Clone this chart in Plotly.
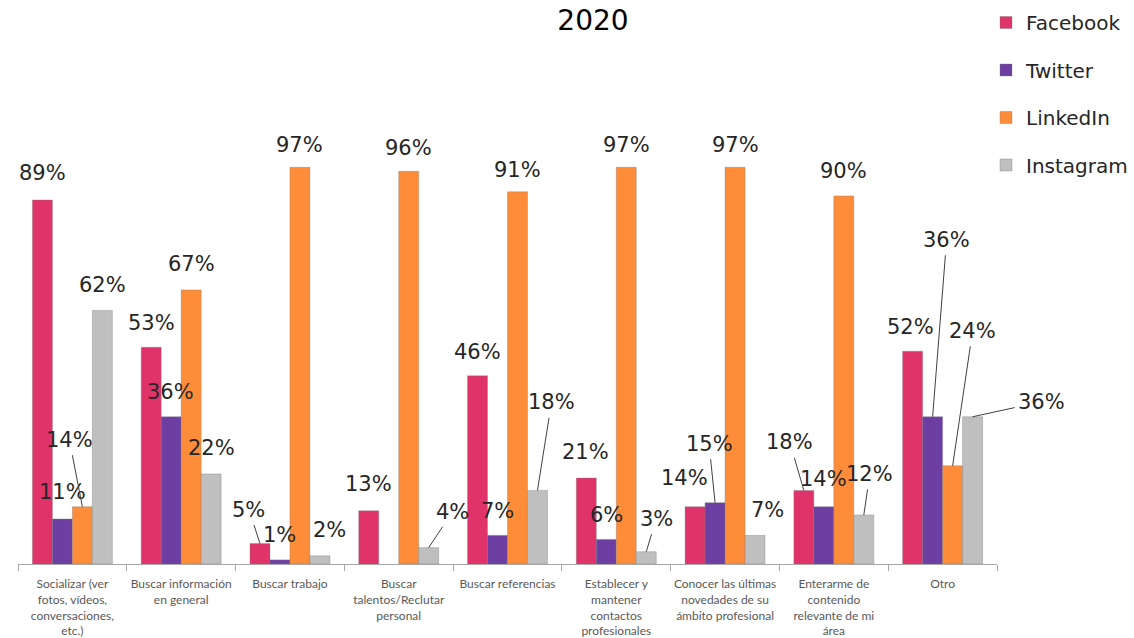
import plotly.graph_objects as go

categories = [
    "Socializar (ver<br>fotos, vídeos,<br>conversaciones,<br>etc.)",
    "Buscar información<br>en general",
    "Buscar trabajo",
    "Buscar<br>talentos/Reclutar<br>personal",
    "Buscar referencias",
    "Establecer y<br>mantener<br>contactos<br>profesionales",
    "Conocer las últimas<br>novedades de su<br>ámbito profesional",
    "Enterarme de<br>contenido<br>relevante de mi<br>área",
    "Otro",
]
series_names = ["Facebook", "Twitter", "LinkedIn", "Instagram"]
facebook = [89, 53, 5, 13, 46, 21, 14, 18, 52]
twitter = [11, 36, 1, None, 7, 6, 15, 14, 36]
linkedin = [14, 67, 97, 96, 91, 97, 97, 90, 24]
instagram = [62, 22, 2, 4, 18, 3, 7, 12, 36]
series_values = [facebook, twitter, linkedin, instagram]
colors = ["#E0336A", "#6E3FA3", "#FF8C38", "#BFBFBF"]

# label placement (pixel offsets of label centre from bar top-centre, leader line flag)
label_offsets = [
    [(0, -27, 0), (0, -24, 0), (-11, -34, 1), (0, -27, 0), (0, -24, 0), (-1, -26, 0), (-11, -29, 0), (-14, -48, 1), (-2, -24, 0)],
    [(0, -27, 0), (-1, -25, 0), (0, -25, 0), None, (0, -24, 0), (0, -24, 0), (-6, -59, 1), (0, -28, 0), (14, -177, 1)],
    [(-13, -67, 1), (0, -26, 0), (0, -22, 0), (0, -23, 0), (0, -22, 0), (0, -22, 0), (0, -22, 0), (0, -25, 0), (20, -135, 1)],
    [(0, -25, 0), (0, -26, 0), (10, -26, 0), (24, -36, 1), (14, -88, 1), (10, -33, 1), (12, -25, 0), (6, -41, 1), (69, -15, 1)],
]

W, H = 1134, 638
ML, MR, MT, MB = 18, 137, 60, 74
px_per_unit = 4.09
yrange_max = (H - MT - MB) / px_per_unit
bargap = 0.265
bw = (1 - bargap) / 4

FONT = "DejaVu Sans"
fig = go.Figure()
x_idx = list(range(len(categories)))
for i, (name, vals) in enumerate(zip(series_names, series_values)):
    fig.add_trace(go.Bar(
        x=x_idx, y=vals, name=name, legendgroup=name,
        marker=dict(color=colors[i], line=dict(color="rgba(120,120,120,0.6)", width=0.6)),
    ))

annotations = []
for i, vals in enumerate(series_values):
    for c, v in enumerate(vals):
        if v is None or label_offsets[i][c] is None:
            continue
        dx, dy, leader = label_offsets[i][c]
        xc = c + (i - 1.5) * bw
        common = dict(x=xc, y=v, xref="x", yref="y", text=f"{v}%",
                      font=dict(family=FONT, size=21, color="#262626"))
        if leader:
            annotations.append(dict(**common, showarrow=True, ax=dx, ay=dy,
                                    arrowhead=0, arrowwidth=1, arrowcolor="#404040",
                                    standoff=0, startstandoff=2))
        else:
            annotations.append(dict(**common, showarrow=False, xshift=dx, yshift=-dy,
                                    xanchor="center", yanchor="middle"))

fig.update_layout(
    width=W, height=H,
    margin=dict(l=ML, r=MR, t=MT, b=MB, autoexpand=False),
    paper_bgcolor="white", plot_bgcolor="white",
    barmode="group", bargap=bargap, bargroupgap=0,
    title=dict(text="2020", x=593 / W, xref="container", xanchor="center",
               y=1 - 20 / H, yref="container", yanchor="middle",
               font=dict(family=FONT, size=28, color="#000000")),
    legend=dict(x=(986 - ML) / (W - ML - MR), xanchor="left", y=1 - 3 / H, yref="container", yanchor="top",
                font=dict(family=FONT, size=20, color="#262626"), tracegroupgap=18.5,
                bgcolor="rgba(0,0,0,0)", itemwidth=30),
    annotations=annotations,
    showlegend=True,
)
fig.update_xaxes(
    range=[-0.5, len(categories) - 0.5],
    tickmode="array", tickvals=x_idx, ticktext=categories,
    tickfont=dict(family="Lato", size=12, color="#595959"),
    ticklabelstandoff=9,
    showline=True, linecolor="#A6A6A6", linewidth=1,
    ticks="", showgrid=False, zeroline=False,
)
# boundary tick marks via minor ticks
fig.update_xaxes(minor=dict(tickmode="array", tickvals=[k - 0.5 for k in range(len(categories) + 1)],
                            ticks="outside", ticklen=6, tickcolor="#A6A6A6", tickwidth=1))
fig.update_yaxes(range=[0, yrange_max], visible=False, showgrid=False, zeroline=False)

fig.write_html("out.html", config={"displayModeBar": False},
               post_script="document.body.style.margin='0';document.body.style.padding='0';")
